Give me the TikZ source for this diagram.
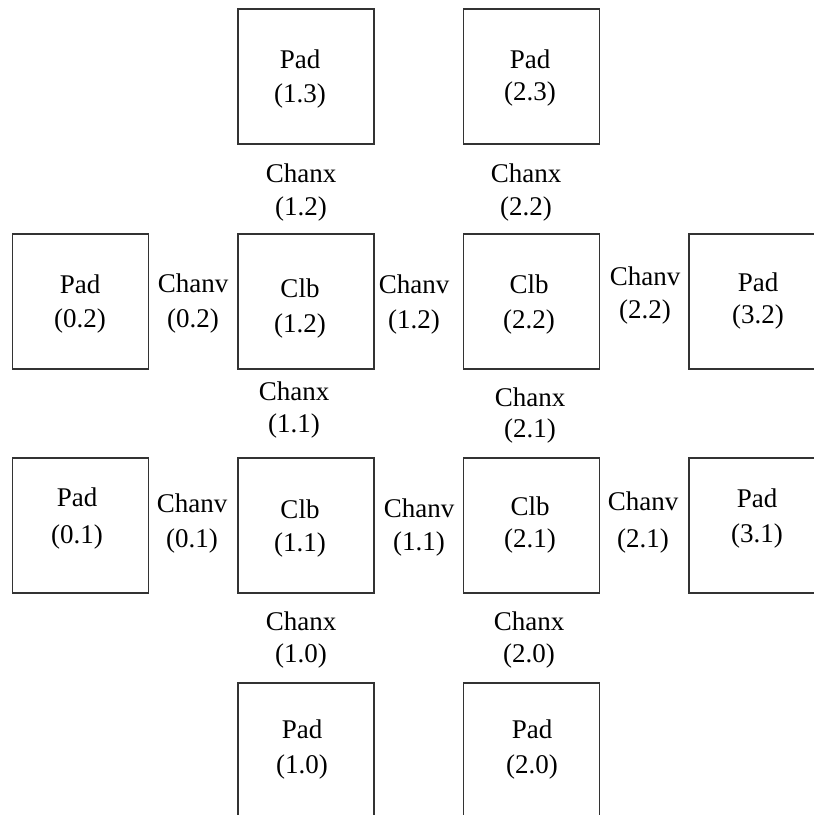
\documentclass[tikz,border=0pt]{standalone}
\usepackage{fontspec}
\setmainfont{Liberation Serif}
\begin{document}
\begin{tikzpicture}[x=1bp,y=-1bp,
  cell/.style={draw=black!80,line width=1.3bp,minimum width=136bp,minimum height=135bp,inner sep=0pt,fill=none},
  lbl/.style={anchor=base,inner sep=0pt,font=\fontsize{27bp}{33bp}\selectfont}]
\clip (0,0) rectangle (814,815);
\fill[white] (0,0) rectangle (814,815);
% boxes
\node[cell] (p13) at (306,76.5) {};
\node[cell] (p23) at (531.5,76.5) {};
\node[cell] (p02) at (80.5,301.5) {};
\node[cell] (c12) at (306,301.5) {};
\node[cell] (c22) at (531.5,301.5) {};
\node[cell] (p32) at (757,301.5) {};
\node[cell] (p01) at (80.5,525.5) {};
\node[cell] (c11) at (306,525.5) {};
\node[cell] (c21) at (531.5,525.5) {};
\node[cell] (p31) at (757,525.5) {};
\node[cell] (p10) at (306,750.5) {};
\node[cell] (p20) at (531.5,750.5) {};
% box texts
\node[lbl] (tp13a) at (300,69) {Pad};   \node[lbl] (tp13b) at (300,102) {(1.3)};
\node[lbl] (tp23a) at (530,69) {Pad};   \node[lbl] (tp23b) at (530,100) {(2.3)};
\node[lbl] (tp02a) at (80,293) {Pad};   \node[lbl] (tp02b) at (80,327) {(0.2)};
\node[lbl] (tc12a) at (300,297) {Clb};  \node[lbl] (tc12b) at (300,332) {(1.2)};
\node[lbl] (tc22a) at (529,293) {Clb};  \node[lbl] (tc22b) at (529,328) {(2.2)};
\node[lbl] (tp32a) at (758,291) {Pad};  \node[lbl] (tp32b) at (758,323) {(3.2)};
\node[lbl] (tp01a) at (77,506) {Pad};   \node[lbl] (tp01b) at (77,543) {(0.1)};
\node[lbl] (tc11a) at (300,518) {Clb};  \node[lbl] (tc11b) at (300,551) {(1.1)};
\node[lbl] (tc21a) at (530,515) {Clb};  \node[lbl] (tc21b) at (530,547) {(2.1)};
\node[lbl] (tp31a) at (757,507) {Pad};  \node[lbl] (tp31b) at (757,542) {(3.1)};
\node[lbl] (tp10a) at (302,738) {Pad};  \node[lbl] (tp10b) at (302,773) {(1.0)};
\node[lbl] (tp20a) at (532,738) {Pad};  \node[lbl] (tp20b) at (532,773) {(2.0)};
% channel texts
\node[lbl] (x12a) at (301,182) {Chanx}; \node[lbl] (x12b) at (301,215) {(1.2)};
\node[lbl] (x22a) at (526,182) {Chanx}; \node[lbl] (x22b) at (526,215) {(2.2)};
\node[lbl] (v02a) at (193,292) {Chanv}; \node[lbl] (v02b) at (193,327) {(0.2)};
\node[lbl] (v12a) at (414,293) {Chanv}; \node[lbl] (v12b) at (414,328) {(1.2)};
\node[lbl] (v22a) at (645,285) {Chanv}; \node[lbl] (v22b) at (645,318) {(2.2)};
\node[lbl] (x11a) at (294,400) {Chanx}; \node[lbl] (x11b) at (294,432) {(1.1)};
\node[lbl] (x21a) at (530,406) {Chanx}; \node[lbl] (x21b) at (530,437) {(2.1)};
\node[lbl] (v01a) at (192,512) {Chanv}; \node[lbl] (v01b) at (192,547) {(0.1)};
\node[lbl] (v11a) at (419,517) {Chanv}; \node[lbl] (v11b) at (419,550) {(1.1)};
\node[lbl] (v21a) at (643,510) {Chanv}; \node[lbl] (v21b) at (643,547) {(2.1)};
\node[lbl] (x10a) at (301,630) {Chanx}; \node[lbl] (x10b) at (301,662) {(1.0)};
\node[lbl] (x20a) at (529,630) {Chanx}; \node[lbl] (x20b) at (529,662) {(2.0)};
\end{tikzpicture}
\end{document}
